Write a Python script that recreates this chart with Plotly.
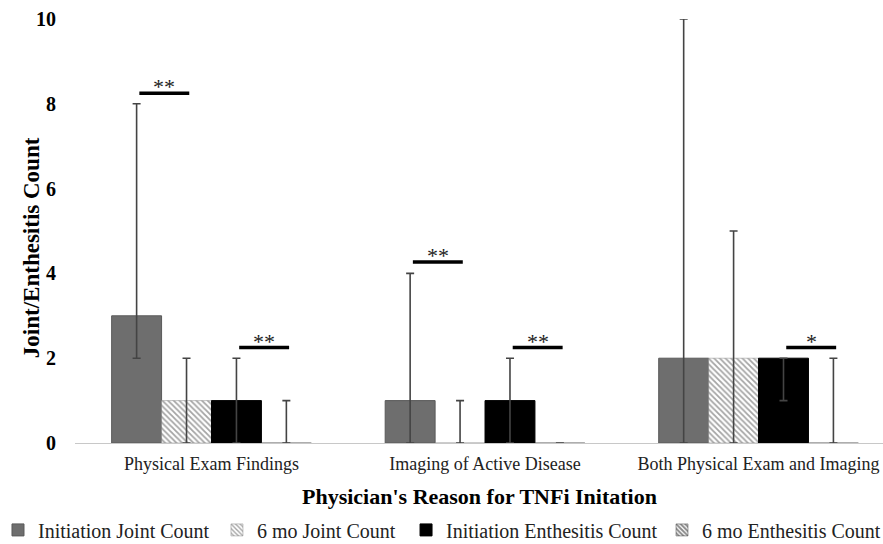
import plotly.graph_objects as go

categories = ["Physical Exam Findings", "Imaging of Active Disease", "Both Physical Exam and Imaging"]
series_names = ["Initiation Joint Count", "6 mo Joint Count", "Initiation Enthesitis Count", "6 mo Enthesitis Count"]

# median values
init_joint = [3, 1, 2]
mo6_joint = [1, 0, 2]
init_enth = [1, 1, 2]
mo6_enth = [0, 0, 0]

# range (min / max)
init_joint_min = [2, 0, 0]
init_joint_max = [8, 4, 10]
mo6_joint_min = [0, 0, 0]
mo6_joint_max = [2, 1, 5]
init_enth_min = [0, 0, 1]
init_enth_max = [2, 2, 2]
mo6_enth_min = [0, 0, 0]
mo6_enth_max = [1, 0, 2]

# significance brackets: (category index, bar a, bar b, level, label)
sig_cat = [0, 0, 1, 1, 2]
sig_bar_a = [0, 2, 0, 2, 2]
sig_bar_b = [1, 3, 1, 3, 3]
sig_level = [8.25, 2.25, 4.27, 2.25, 2.25]
sig_label = ["**", "**", "**", "**", "*"]

xs = list(range(len(categories)))
BARGAP = 0.27
NBARS = 4
bw = (1 - BARGAP) / NBARS

def bar_center(cat, k):
    return cat - (1 - BARGAP) / 2 + (k + 0.5) * bw

FONT = "Liberation Serif, Times New Roman, serif"
ERR_COLOR = "#444444"

fig = go.Figure()

series = [
    (series_names[0], init_joint, init_joint_min, init_joint_max,
     dict(color="#6e6e6e", line=dict(color="#5a5a5a", width=1))),
    (series_names[1], mo6_joint, mo6_joint_min, mo6_joint_max,
     dict(color="white", line=dict(color="#8a8a8a", width=0.5),
          pattern=dict(shape="\\", fgcolor="#4a4a4a", bgcolor="white", size=4, solidity=0.45))),
    (series_names[2], init_enth, init_enth_min, init_enth_max,
     dict(color="#000000", line=dict(color="#000000", width=1))),
    (series_names[3], mo6_enth, mo6_enth_min, mo6_enth_max,
     dict(color="white", line=dict(color="#444444", width=0.5),
          pattern=dict(shape="\\", fgcolor="#111111", bgcolor="white", size=4, solidity=0.6))),
]

legend_ids = ["legend", "legend2", "legend3", "legend4"]
legend_x = [-0.0953, 0.1757, 0.4097, 0.7265]

for (name, vals, lo, hi, marker), lid in zip(series, legend_ids):
    fig.add_trace(go.Bar(
        x=xs, y=vals, name=name, marker=marker, cliponaxis=False, legend=lid,
        error_y=dict(type="data", symmetric=False,
                     array=[h - v for h, v in zip(hi, vals)],
                     arrayminus=[v - l for v, l in zip(vals, lo)],
                     color=ERR_COLOR, thickness=1.6, width=4),
    ))

shapes = []
annotations = []
for c, a, b, lvl, lab in zip(sig_cat, sig_bar_a, sig_bar_b, sig_level, sig_label):
    x0 = bar_center(c, a) + 0.01
    x1 = bar_center(c, b) + 0.01
    shapes.append(dict(type="line", xref="x", yref="y", x0=x0, x1=x1, y0=lvl, y1=lvl,
                       line=dict(color="black", width=3.5)))
    annotations.append(dict(x=(x0 + x1) / 2, y=lvl, xref="x", yref="y", text=lab,
                            showarrow=False, yanchor="bottom", yshift=-8,
                            font=dict(family=FONT, size=22, color="#222222")))

annotations.append(dict(text="<b>Joint/Enthesitis Count</b>", xref="paper", yref="paper",
                        x=-0.053, y=0.46, textangle=-90, showarrow=False,
                        xanchor="center", yanchor="middle",
                        font=dict(family=FONT, size=23, color="black")))
annotations.append(dict(text="<b>Physician's Reason for TNFi Initation</b>", xref="paper", yref="paper",
                        x=0.501, y=-0.125, showarrow=False, xanchor="center", yanchor="middle",
                        font=dict(family=FONT, size=22, color="black")))

legend_common = dict(orientation="h", xanchor="left", y=-0.205, yanchor="middle",
                     font=dict(family=FONT, size=20, color="#222222"),
                     itemwidth=30, bgcolor="rgba(0,0,0,0)")

layout_legends = {lid: dict(legend_common, x=lx) for lid, lx in zip(legend_ids, legend_x)}

fig.update_layout(
    width=883, height=544,
    margin=dict(l=75, r=0, t=19, b=101, autoexpand=False),
    paper_bgcolor="white", plot_bgcolor="white",
    barmode="group", bargap=BARGAP, bargroupgap=0,
    font=dict(family=FONT, color="black"),
    shapes=shapes, annotations=annotations,
    showlegend=True,
    xaxis=dict(range=[-0.499, 2.455], tickmode="array", tickvals=xs, ticktext=categories,
               showline=True, linecolor="#c8c8c8", linewidth=1, showgrid=False,
               zeroline=False, ticks="", ticklabelstandoff=4,
               tickfont=dict(family=FONT, size=18, color="#222222")),
    yaxis=dict(range=[0, 10], tickvals=[0, 2, 4, 6, 8, 10], showgrid=False, zeroline=False,
               showline=False, ticks="", ticklabelstandoff=18,
               tickfont=dict(family=FONT, size=20, color="black", weight="bold")),
    **layout_legends,
)

# remove the default 8px page margin so the 883x544 figure fills the window exactly
fig.write_html("out.html", config={"displayModeBar": False},
               post_script="document.body.style.margin='0';document.body.style.overflow='hidden';")
